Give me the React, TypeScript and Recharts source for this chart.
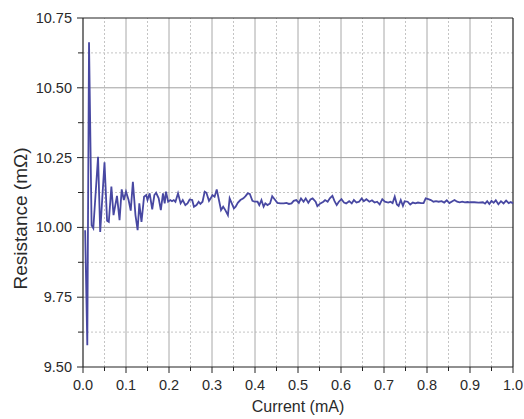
import React from 'react';
import { LineChart, Line, XAxis, YAxis, ReferenceLine, Label } from 'recharts';

const current = [
  0.005, 0.010, 0.014, 0.020, 0.024, 0.035, 0.040, 0.050, 0.056, 0.060,
  0.066, 0.071, 0.079, 0.085, 0.090, 0.095, 0.100, 0.106, 0.111, 0.116,
  0.122, 0.127, 0.131, 0.136, 0.142, 0.147, 0.150, 0.155, 0.161, 0.166,
  0.170, 0.176, 0.181, 0.186, 0.190, 0.193, 0.198, 0.203, 0.207, 0.211,
  0.215, 0.221, 0.227, 0.232, 0.238, 0.243, 0.248, 0.254, 0.258, 0.264,
  0.269, 0.273, 0.278, 0.283, 0.287, 0.293, 0.297, 0.301, 0.306, 0.311,
  0.317, 0.321, 0.326, 0.331, 0.337, 0.341, 0.346, 0.351, 0.355, 0.360,
  0.366, 0.373, 0.378, 0.383, 0.388, 0.394, 0.399, 0.406, 0.410, 0.415,
  0.420, 0.424, 0.429, 0.435, 0.440, 0.446, 0.452, 0.459, 0.467, 0.473,
  0.479, 0.485, 0.490, 0.496, 0.502, 0.507, 0.513, 0.518, 0.524, 0.529,
  0.534, 0.541, 0.545, 0.552, 0.559, 0.563, 0.569, 0.574, 0.580, 0.585,
  0.590, 0.595, 0.601, 0.607, 0.612, 0.619, 0.625, 0.630, 0.636, 0.642,
  0.648, 0.653, 0.659, 0.666, 0.672, 0.678, 0.684, 0.690, 0.696, 0.702,
  0.710, 0.715, 0.720, 0.725, 0.730, 0.734, 0.739, 0.744, 0.748, 0.755,
  0.761, 0.767, 0.773, 0.779, 0.786, 0.792, 0.797, 0.803, 0.809, 0.815,
  0.821, 0.827, 0.834, 0.840, 0.846, 0.852, 0.859, 0.864, 0.870, 0.876,
  0.882, 0.888, 0.894, 0.900, 0.910, 0.920, 0.930, 0.935, 0.940, 0.945,
  0.950, 0.955, 0.960, 0.966, 0.972, 0.978, 0.984, 0.990, 0.995, 1.000,
];

const resistance = [
  9.990, 9.578, 10.663, 10.008, 9.997, 10.253, 9.984, 10.233, 10.024, 10.020,
  10.146, 10.044, 10.113, 10.026, 10.136, 10.098, 10.128, 10.098, 10.060, 10.163,
  10.044, 9.990, 10.086, 10.020, 10.110, 10.116, 10.098, 10.122, 10.065, 10.116,
  10.124, 10.104, 10.062, 10.122, 10.086, 10.128, 10.092, 10.098, 10.094, 10.098,
  10.092, 10.122, 10.086, 10.098, 10.080, 10.086, 10.100, 10.098, 10.074, 10.080,
  10.092, 10.084, 10.092, 10.128, 10.124, 10.095, 10.104, 10.116, 10.110, 10.136,
  10.092, 10.062, 10.074, 10.062, 10.044, 10.104, 10.086, 10.068, 10.074, 10.088,
  10.098, 10.104, 10.112, 10.122, 10.120, 10.095, 10.092, 10.092, 10.080, 10.098,
  10.074, 10.086, 10.080, 10.086, 10.112, 10.100, 10.088, 10.086, 10.086, 10.088,
  10.084, 10.086, 10.095, 10.098, 10.088, 10.104, 10.092, 10.104, 10.088, 10.100,
  10.104, 10.092, 10.076, 10.086, 10.092, 10.098, 10.092, 10.104, 10.113, 10.094,
  10.080, 10.092, 10.101, 10.089, 10.086, 10.094, 10.086, 10.098, 10.089, 10.092,
  10.104, 10.094, 10.101, 10.092, 10.097, 10.089, 10.092, 10.082, 10.101, 10.092,
  10.089, 10.092, 10.087, 10.110, 10.082, 10.077, 10.098, 10.077, 10.094, 10.092,
  10.082, 10.089, 10.086, 10.089, 10.087, 10.087, 10.104, 10.101, 10.098, 10.092,
  10.094, 10.092, 10.094, 10.089, 10.097, 10.087, 10.094, 10.098, 10.092, 10.090,
  10.092, 10.090, 10.091, 10.090, 10.090, 10.089, 10.090, 10.085, 10.094, 10.084,
  10.095, 10.088, 10.097, 10.083, 10.094, 10.086, 10.096, 10.087, 10.091, 10.086,
];

const xTicks = [
  0, 0.05, 0.1, 0.15, 0.2, 0.25, 0.3, 0.35, 0.4, 0.45, 0.5,
  0.55, 0.6, 0.65, 0.7, 0.75, 0.8, 0.85, 0.9, 0.95, 1.0,
];
const yTicks = [9.5, 9.625, 9.75, 9.875, 10.0, 10.125, 10.25, 10.375, 10.5, 10.625, 10.75];

const xMajorGrid = [0.1, 0.2, 0.3, 0.4, 0.5, 0.6, 0.7, 0.8, 0.9];
const xMinorGrid = [0.05, 0.15, 0.25, 0.35, 0.45, 0.55, 0.65, 0.75, 0.85, 0.95];
const yMajorGrid = [9.75, 10.0, 10.25, 10.5];
const yMinorGrid = [9.625, 9.875, 10.125, 10.375, 10.625];

const data = current.map((c, i) => ({ c, r: resistance[i] }));

const FONT = '"Liberation Sans", Arial, sans-serif';
const LINE_COLOR = '#4848a2';

const isMajorX = (v: number) => Math.round(v * 100) % 10 === 0;
const isMajorY = (v: number) => Math.abs(v * 4 - Math.round(v * 4)) < 1e-6;

const XTick = ({ x, y, payload }: any) => {
  const major = isMajorX(payload.value);
  return (
    <g>
      <line x1={x} y1={y} x2={x} y2={y + (major ? 6 : 4)} stroke="#222" strokeWidth={1} />
      {major && (
        <text x={x} y={y + 23} textAnchor="middle" fontSize={14.5} fontFamily={FONT} fill="#2a2a2a">
          {payload.value.toFixed(1)}
        </text>
      )}
    </g>
  );
};

const YTick = ({ x, y, payload }: any) => {
  const major = isMajorY(payload.value);
  return (
    <g>
      <line x1={x} y1={y} x2={x - (major ? 6 : 5)} y2={y} stroke="#222" strokeWidth={1} />
      {major && (
        <text x={x - 11} y={y + 5} textAnchor="end" fontSize={14.5} fontFamily={FONT} fill="#2a2a2a">
          {payload.value.toFixed(2)}
        </text>
      )}
    </g>
  );
};

const YLabel = ({ viewBox }: any) => {
  const cx = viewBox.x + 20;
  const cy = viewBox.y + viewBox.height / 2 + 26;
  return (
    <text
      x={cx}
      y={cy}
      transform={`rotate(-90, ${cx}, ${cy})`}
      textAnchor="middle"
      dominantBaseline="central"
      fontSize={19}
      fontFamily={FONT}
      fill="#2a2a2a"
    >
      Resistance (mΩ)
    </text>
  );
};

export default function App() {
  return (
    <div style={{ position: 'absolute', left: 0, top: 0, width: 524, height: 419, background: '#fff' }}>
      <LineChart width={524} height={419} data={data} margin={{ top: 18, right: 11, bottom: 0, left: 0 }}>
        <XAxis
          dataKey="c"
          type="number"
          domain={[0, 1]}
          ticks={xTicks}
          interval={0}
          tickLine={false}
          tickSize={0}
          tickMargin={0}
          tick={<XTick />}
          axisLine={{ stroke: '#222', strokeWidth: 1.2 }}
          height={52}
        >
          <Label value="Current (mA)" position="insideBottom" offset={7} fontSize={16} fontFamily={FONT} fill="#2a2a2a" />
        </XAxis>
        <YAxis
          type="number"
          domain={[9.5, 10.75]}
          ticks={yTicks}
          interval={0}
          tickLine={false}
          tickSize={0}
          tickMargin={0}
          tick={<YTick />}
          axisLine={{ stroke: '#222', strokeWidth: 1.2 }}
          width={83}
          allowDataOverflow
        >
          <Label content={<YLabel />} />
        </YAxis>

        {xMinorGrid.map(v => (
          <ReferenceLine key={'xm' + v} x={v} stroke="#c4c4c4" strokeDasharray="2 2" />
        ))}
        {yMinorGrid.map(v => (
          <ReferenceLine key={'ym' + v} y={v} stroke="#c4c4c4" strokeDasharray="2 2" />
        ))}
        {xMajorGrid.map(v => (
          <ReferenceLine key={'xM' + v} x={v} stroke="#a8a8a8" />
        ))}
        {yMajorGrid.map(v => (
          <ReferenceLine key={'yM' + v} y={v} stroke="#a0a0a0" />
        ))}
        <ReferenceLine y={10.75} stroke="#222" strokeWidth={1.2} />
        <ReferenceLine x={1} stroke="#222" strokeWidth={1.2} />

        <Line
          type="linear"
          dataKey="r"
          stroke={LINE_COLOR}
          strokeWidth={1.8}
          dot={false}
          activeDot={false}
          isAnimationActive={false}
        />
      </LineChart>
    </div>
  );
}
